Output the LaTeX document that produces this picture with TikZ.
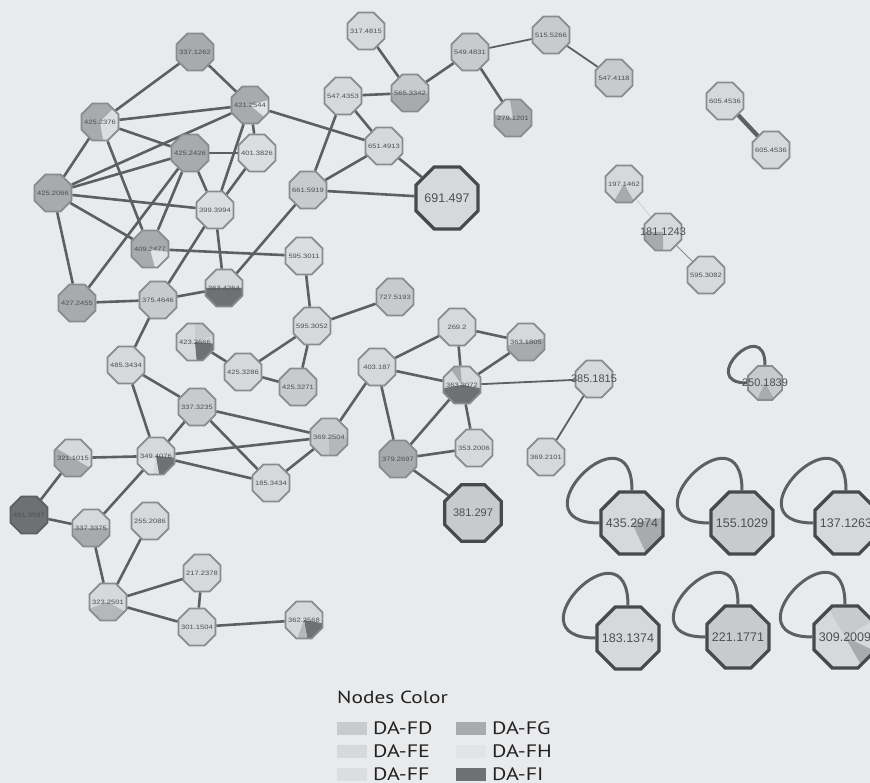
\documentclass[tikz,border=0pt]{standalone}
\usepackage{fontspec}
\setmainfont{Liberation Sans}
\newfontfamily\legfont[FakeStretch=1.22]{PT Sans}
\newfontfamily\lblfont[FakeStretch=1.2]{Liberation Sans}
\usetikzlibrary{shapes.geometric}
\pgfdeclarelayer{bg}
\pgfdeclarelayer{edges}
\pgfsetlayers{bg,edges,main}
\definecolor{bgc}{HTML}{E9EAEC}
\definecolor{cFD}{HTML}{C9CACC}
\definecolor{cFE}{HTML}{D7D8DA}
\definecolor{cFF}{HTML}{DCDDDF}
\definecolor{cFG}{HTML}{A9AAAC}
\definecolor{cFH}{HTML}{E2E3E5}
\definecolor{cFI}{HTML}{6F7072}
\definecolor{cMid}{HTML}{B6B7B9}
\definecolor{edgec}{HTML}{5E5F61}
\definecolor{bordc}{HTML}{8A8B8D}
\definecolor{bigbord}{HTML}{48494B}
\definecolor{txtc}{HTML}{4E4F51}
\definecolor{legtxt}{HTML}{222222}
\newcommand\pslice[3]{\fill[#3] (path picture bounding box.center) -- ++(#1:40pt) arc[start angle=#1,end angle=#2,radius=40pt] -- cycle;}
\tikzset{
  nd/.style={regular polygon, regular polygon sides=8, minimum size=40pt, inner sep=0pt, draw=bordc, line width=1.7pt, fill=#1},
  bignd/.style={regular polygon, regular polygon sides=8, minimum size=67pt, inner sep=0pt, draw=bigbord, line width=3.2pt, fill=#1},
  sl/.style={font=\lblfont\fontsize{6.3}{7}\selectfont, text=txtc, inner sep=0pt},
  bl/.style={font=\fontsize{12.5}{13}\selectfont, text=txtc, inner sep=0pt},
  ml/.style={font=\fontsize{11}{12}\selectfont, text=txtc, inner sep=0pt},
  ln/.style={draw=edgec, line width=2.6pt},
  lnthin/.style={draw=edgec, line width=1.8pt},
  lnfaint/.style={draw=#1, line width=0.9pt},
  loopst/.style={draw=edgec, line width=3pt},
  bigloop/.style={loopst, to path={.. controls +(0,-88) and +(-88,0) .. (\tikztotarget)}},
  smallloop/.style={loopst, to path={.. controls +(0,-51) and +(-51,0) .. (\tikztotarget)}},
  legtext/.style={font=\legfont\fontsize{18}{20}\selectfont, text=legtxt, inner sep=0pt, anchor=west},
  legtitle/.style={font=\legfont\fontsize{17.5}{20}\selectfont, text=legtxt, inner sep=0pt, anchor=west},
}
\begin{document}
\begin{tikzpicture}[x=1pt,y=-1pt]
\useasboundingbox (0,0) rectangle (870,783);
\begin{pgfonlayer}{bg}
\fill[bgc] (0,0) rectangle (870,783);
\end{pgfonlayer}
% ---------- left cluster
\node[nd=cFG, label={[sl]center:337.1262}] (a1) at (195,52) {};
\node[nd=cFG, path picture={\pslice{-40}{15}{cFH}}, label={[sl]center:421.2544}] (a2) at (250,105) {};
\node[nd=cFG, path picture={\pslice{-80}{45}{cFF}}, label={[sl]center:425.2376}] (a3) at (100,122) {};
\node[nd=cFG, label={[sl]center:425.2426}] (a4) at (190,153) {};
\node[nd=cFF, label={[sl]center:401.3826}] (a5) at (257,153) {};
\node[nd=cFG, label={[sl]center:425.2066}] (a6) at (53,193) {};
\node[nd=cFF, label={[sl]center:399.3994}] (a7) at (215,210) {};
\node[nd=cFG, path picture={\pslice{-75}{-10}{cFH}}, label={[sl]center:409.2477}] (a8) at (150,249) {};
\node[nd=cFE, path picture={\pslice{180}{360}{cFI}}, label={[sl]center:363.4264}] (a9) at (224,288) {};
\node[nd=cFG, label={[sl]center:427.2455}] (a10) at (77,303) {};
\node[nd=cFD, label={[sl]center:375.4646}] (a11) at (158,300) {};
\node[nd=cFF, label={[sl]center:595.3011}] (a12) at (304,256) {};
\node[nd=cFD, label={[sl]center:727.5193}] (a13) at (395,297) {};
\node[nd=cFE, label={[sl]center:595.3052}] (a14) at (312,326) {};
\node[nd=cFE, path picture={\pslice{20}{90}{cFD}\pslice{-85}{-5}{cFI}}, label={[sl]center:423.2666}] (a15) at (195,342) {};
\node[nd=cFE, label={[sl]center:425.3286}] (a16) at (243,372) {};
\node[nd=cFD, label={[sl]center:425.3271}] (a17) at (298,387) {};
\node[nd=cFE, label={[sl]center:485.3434}] (a18) at (126,365) {};
\node[nd=cFD, label={[sl]center:337.3235}] (a19) at (197,407) {};
\node[nd=cFD, path picture={\pslice{-90}{-5}{cMid}}, label={[sl]center:369.2504}] (a20) at (329,437) {};
\node[nd=cFE, path picture={\pslice{-80}{-5}{cFI}\pslice{200}{260}{cFH}}, label={[sl]center:349.4076}] (a21) at (156,456) {};
\node[nd=cFE, label={[sl]center:185.3434}] (a22) at (271,483) {};
\node[nd=cFE, path picture={\pslice{150}{330}{cFG}}, label={[sl]center:321.1015}] (a23) at (73,458) {};
\node[nd=cFI, draw=edgec, label={[sl]center:451.3597}] (a24) at (29,515) {};
\node[nd=cFE, path picture={\pslice{180}{360}{cFG}}, label={[sl]center:337.3375}] (a25) at (91,528) {};
\node[nd=cFE, label={[sl]center:255.2086}] (a26) at (150,521) {};
\node[nd=cFE, label={[sl]center:217.2378}] (a27) at (202,573) {};
\node[nd=cFE, path picture={\pslice{200}{330}{cMid}}, label={[sl]center:323.2501}] (a28) at (108,602) {};
\node[nd=cFE, label={[sl]center:301.1504}] (a29) at (197,627) {};
\node[nd=cFE, path picture={\pslice{-80}{-10}{cFI}\pslice{-110}{-80}{cMid}}, label={[sl]center:362.2568}] (a30) at (304,620) {};
% ---------- top cluster
\node[nd=cFE, label={[sl]center:317.4815}] (a31) at (366,31) {};
\node[nd=cFD, label={[sl]center:549.4831}] (a32) at (470,52) {};
\node[nd=cFD, label={[sl]center:515.5266}] (a33) at (551,35) {};
\node[nd=cFD, label={[sl]center:547.4118}] (a34) at (614,78) {};
\node[nd=cFE, label={[sl]center:547.4353}] (a35) at (343,96) {};
\node[nd=cFD, path picture={\pslice{180}{360}{cFG}}, label={[sl]center:565.3342}] (a36) at (410,93) {};
\node[nd=cFG, path picture={\pslice{100}{170}{cFE}}, label={[sl]center:279.1201}] (a37) at (513,118) {};
\node[nd=cFE, label={[sl]center:651.4913}] (a38) at (384,146) {};
\node[nd=cFD, label={[sl]center:661.5919}] (a39) at (308,190) {};
\node[bignd=cFE, label={[bl]center:691.497}] (a40) at (447,198) {};
\node[nd=cFE, label={[sl]center:605.4536}] (a41) at (725,101) {};
\node[nd=cFE, label={[sl]center:605.4536}] (a42) at (771,150) {};
\node[nd=cFE, path picture={\pslice{240}{300}{cFG}}, label={[sl]center:197.1462}] (a43) at (624,184) {};
\node[nd=cFE, path picture={\pslice{180}{270}{cFG}}, label={[ml]center:181.1243}] (a44) at (663,232) {};
\node[nd=cFE, label={[sl]center:595.3082}] (a45) at (706,275) {};
% ---------- right-middle cluster
\node[nd=cFE, label={[sl]center:269.2}] (a46) at (457,327) {};
\node[nd=cFE, path picture={\pslice{190}{370}{cFG}}, label={[sl]center:363.1805}] (a47) at (526,342) {};
\node[nd=cFE, label={[sl]center:403.187}] (a48) at (377,367) {};
\node[nd=cFE, path picture={\pslice{190}{350}{cFI}\pslice{95}{125}{cFG}}, label={[sl]center:363.3072}] (a49) at (462,385) {};
\node[nd=cFE, label={[ml]center:385.1815}] (a50) at (594,379) {};
\node[nd=cFG, label={[sl]center:379.2697}] (a51) at (398,459) {};
\node[nd=cFE, label={[sl]center:353.2006}] (a52) at (474,448) {};
\node[nd=cFE, label={[sl]center:369.2101}] (a53) at (546,457) {};
\node[bignd=cFD, minimum size=61pt, label={[ml]center:381.297}] (a54) at (473,513) {};
\node[nd=cFD, minimum size=37pt, path picture={\pslice{245}{300}{cFG}}, label={[ml]center:250.1839}] (a55) at (765,383) {};
% ---------- self-loop nodes
\node[bignd=cFE, path picture={\pslice{-65}{10}{cFG}}, label={[bl]center:435.2974}] (a56) at (632,523) {};
\node[bignd=cFD, label={[bl]center:155.1029}] (a57) at (742,523) {};
\node[bignd=cFE, label={[bl]center:137.1263}] (a58) at (846,523) {};
\node[bignd=cFE, label={[bl]center:183.1374}] (a59) at (628,638) {};
\node[bignd=cFD, label={[bl]center:221.1771}] (a60) at (738,637) {};
\node[bignd=cFE, path picture={\pslice{30}{120}{cFD}\pslice{-60}{-25}{cFG}}, label={[bl]center:309.2009}] (a61) at (845,637) {};
% ---------- legend
\node[legtitle] (lt) at (337,697) {Nodes Color};
\fill[cFD] (337,722) rectangle (367,735);
\fill[cFE] (337,745) rectangle (367,758);
\fill[cFF] (337,768) rectangle (367,781);
\fill[cFG] (456,722) rectangle (486,735);
\fill[cFH] (456,745) rectangle (486,758);
\fill[cFI] (456,768) rectangle (486,781);
\node[legtext] (l1) at (373,728.5) {DA-FD};
\node[legtext] (l2) at (373,751.5) {DA-FE};
\node[legtext] (l3) at (373,774) {DA-FF};
\node[legtext] (l4) at (492,728.5) {DA-FG};
\node[legtext] (l5) at (492,751.5) {DA-FH};
\node[legtext] (l6) at (492,774) {DA-FI};
% ---------- edges
\begin{pgfonlayer}{edges}
\draw[ln] (a1) -- (a3);
\draw[ln] (a1) -- (a2);
\draw[ln] (a3) -- (a2);
\draw[ln] (a3) -- (a4);
\draw[ln] (a3) -- (a6);
\draw[ln] (a3) -- (a8);
\draw[ln] (a2) -- (a6);
\draw[ln] (a2) -- (a5);
\draw[ln] (a2) -- (a7);
\draw[ln] (a2) -- (a38);
\draw[ln] (a4) -- (a5);
\draw[ln] (a4) -- (a6);
\draw[ln] (a4) -- (a7);
\draw[ln] (a4) -- (a10);
\draw[ln] (a4) -- (a8);
\draw[ln] (a6) -- (a7);
\draw[ln] (a6) -- (a8);
\draw[ln] (a6) -- (a10);
\draw[ln] (a5) -- (a7);
\draw[ln] (a7) -- (a11);
\draw[ln] (a7) -- (a9);
\draw[ln] (a8) -- (a12);
\draw[ln] (a10) -- (a11);
\draw[ln] (a11) -- (a9);
\draw[ln] (a9) -- (a39);
\draw[ln] (a11) -- (a18);
\draw[ln] (a31) -- (a36);
\draw[ln] (a36) -- (a35);
\draw[ln] (a36) -- (a32);
\draw[lnthin] (a32) -- (a33);
\draw[ln] (a32) -- (a37);
\draw[lnthin] (a33) -- (a34);
\draw[ln] (a35) -- (a38);
\draw[ln] (a35) -- (a39);
\draw[ln] (a38) -- (a39);
\draw[ln] (a38) -- (a40);
\draw[ln] (a39) -- (a40);
\draw[draw=edgec, line width=4.2pt] (a41) -- (a42);
\draw[lnfaint=bordc!40] (a43) -- (a44);
\draw[lnfaint=bordc] (a44) -- (a45);
\draw[ln] (a12) -- (a14);
\draw[ln] (a14) -- (a13);
\draw[ln] (a14) -- (a16);
\draw[ln] (a14) -- (a17);
\draw[ln] (a16) -- (a17);
\draw[ln] (a15) -- (a16);
\draw[ln] (a18) -- (a19);
\draw[ln] (a18) -- (a21);
\draw[ln] (a19) -- (a20);
\draw[ln] (a19) -- (a21);
\draw[ln] (a19) -- (a22);
\draw[ln] (a21) -- (a20);
\draw[ln] (a21) -- (a22);
\draw[ln] (a20) -- (a22);
\draw[ln] (a20) -- (a48);
\draw[ln] (a21) -- (a23);
\draw[ln] (a21) -- (a25);
\draw[ln] (a23) -- (a24);
\draw[ln] (a24) -- (a25);
\draw[ln] (a25) -- (a28);
\draw[ln] (a26) -- (a28);
\draw[ln] (a28) -- (a27);
\draw[ln] (a28) -- (a29);
\draw[ln] (a27) -- (a29);
\draw[ln] (a29) -- (a30);
\draw[ln] (a48) -- (a46);
\draw[ln] (a48) -- (a49);
\draw[ln] (a48) -- (a51);
\draw[ln] (a46) -- (a47);
\draw[ln] (a46) -- (a49);
\draw[ln] (a47) -- (a49);
\draw[lnthin] (a49) -- (a50);
\draw[ln] (a49) -- (a51);
\draw[ln] (a49) -- (a52);
\draw[ln] (a51) -- (a52);
\draw[ln] (a51) -- (a54);
\draw[lnthin] (a50) -- (a53);
\draw[smallloop] (a55.north) to (a55.west);
\draw[bigloop] (a56.north) to (a56.west);
\draw[bigloop] (a57.north) to (a57.west);
\draw[bigloop] (a58.north) to (a58.west);
\draw[bigloop] (a59.north) to (a59.west);
\draw[bigloop] (a60.north) to (a60.west);
\draw[bigloop] (a61.north) to (a61.west);
\end{pgfonlayer}
\end{tikzpicture}
\end{document}
